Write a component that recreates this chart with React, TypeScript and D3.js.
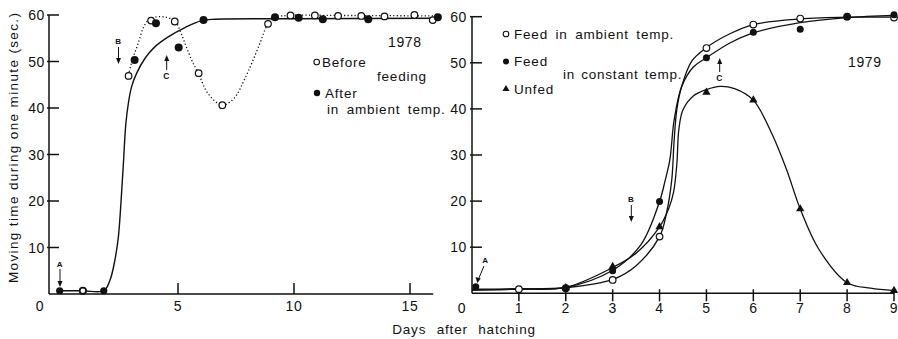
import React from "react";
import * as d3 from "d3";

// ---------- Data: 1978 (left panel) ----------
const beforeFeeding78: [number, number][] = [
  [2.87, 46.9], [3.84, 58.8], [4.86, 58.6], [5.89, 47.5], [6.91, 40.6], [8.88, 58.1],
  [9.85, 59.9], [10.9, 59.9], [11.9, 59.8], [12.9, 59.8], [13.9, 59.7], [15.19, 60.0], [15.98, 58.9],
];
const afterFeeding78: [number, number][] = [
  [3.13, 50.3], [4.05, 58.2], [5.03, 53.0], [6.1, 58.9], [9.18, 59.5], [10.2, 59.4],
  [11.24, 59.1], [13.2, 59.1], [16.2, 59.5],
];
const early78Filled: [number, number][] = [[-0.1, 0.7], [1.8, 0.7]];
const early78Open: [number, number][] = [[0.9, 0.7]];
const fitAfter78: [number, number][] = [
  [-0.1, 0.7], [0.9, 0.7], [1.8, 0.7], [2.07, 3.0], [2.28, 7.3], [2.43, 12.3], [2.54, 19.5],
  [2.64, 27.5], [2.75, 36.5], [2.86, 41], [3.0, 44.6], [3.22, 47.5], [3.58, 50.7], [4.01, 53.2],
  [4.58, 55.3], [5.3, 57.3], [6.02, 58.8], [6.6, 59.1], [10, 59.2], [16.2, 59.3],
];
const fitBefore78: [number, number][] = [
  [2.86, 47.1], [3.05, 50.6], [3.29, 54], [3.5, 57.2], [3.72, 58.9], [4.0, 59.5], [4.4, 59.6],
  [4.87, 58.7], [5.1, 56.5], [5.3, 53.9], [5.59, 50.3], [5.88, 47.4], [6.31, 43.0], [6.91, 40.6],
  [7.4, 42], [7.9, 46.5], [8.5, 53.5], [8.88, 58.1], [9.2, 59.5], [9.85, 59.9], [12, 59.9], [16, 59.8],
];

// ---------- Data: 1979 (right panel) ----------
const days79 = [0, 1, 2, 3, 4, 5, 6, 7, 8, 9];
const feedAmbient: [number, number][] = [[1, 0.9], [2, 1.1], [3, 2.9], [4, 12.3], [5, 53.2], [6, 58.3], [7, 59.6], [8, 60.0], [9, 59.8]];
const feedConstant: [number, number][] = [[0.08, 1.4], [2, 1.1], [3, 4.9], [4, 19.9], [5, 51.1], [6, 56.6], [7, 57.3], [8, 60.0], [9, 60.4]];
const unfed: [number, number][] = [[2, 1.2], [3, 5.8], [4, 14.4], [5, 43.6], [6, 41.9], [7, 18.3], [8, 2.3], [9, 0.6]];

const fitAmbient: [number, number][] = [
  [0, 0.7], [1, 0.9], [2, 1.2], [3, 3.0], [3.5, 6], [4, 12.3], [4.15, 17.5], [4.26, 24.6], [4.31, 33],
  [4.37, 40], [4.47, 44.8], [4.69, 50.4], [5, 53.3], [5.5, 56.3], [6, 58.3], [7, 59.5], [8, 59.9], [9, 59.9],
];
const fitConstant: [number, number][] = [
  [0, 0.9], [1, 1.0], [2, 1.3], [3, 5.0], [3.6, 10.5], [4, 19.9], [4.12, 24.5], [4.22, 29], [4.31, 37.5],
  [4.47, 44.8], [4.72, 49.1], [5, 51.1], [5.5, 54.3], [6, 56.5], [7, 58.7], [8, 59.8], [9, 60.3],
];
const fitUnfed: [number, number][] = [
  [0, 0.7], [1, 0.9], [2, 1.3], [3, 5.6], [3.5, 8.7], [4, 14.4], [4.2, 18.5], [4.3, 22], [4.37, 28.2],
  [4.41, 35.4], [4.5, 39.8], [4.72, 42.8], [5, 44.2], [5.29, 44.9], [5.6, 44.4], [6, 41.9], [6.4, 34.5],
  [6.71, 26.8], [7, 18.3], [7.4, 9.5], [8, 2.3], [8.5, 1.1], [9, 0.6],
];

const yTicks = [10, 20, 30, 40, 50, 60];
const xTicksLeft = [5, 10, 15];
const xTicksRight = [1, 2, 3, 4, 5, 6, 7, 8, 9];

const FONT = "'Liberation Sans', Arial, Helvetica, sans-serif";

export default function App() {
  const W = 898, H = 339;
  const xL = d3.scaleLinear().domain([0, 15]).range([62, 410]);
  const yL = d3.scaleLinear().domain([0, 60]).range([294, 15]);
  const xR = d3.scaleLinear().domain([0, 9]).range([472, 894]);
  const yR = d3.scaleLinear().domain([0, 60]).range([293.3, 16.7]);

  const smooth = d3.curveCatmullRom.alpha(0.5);
  const lineL = d3.line<[number, number]>().x(d => xL(d[0])).y(d => yL(d[1])).curve(smooth);
  const lineR = d3.line<[number, number]>().x(d => xR(d[0])).y(d => yR(d[1])).curve(smooth);
  const tri = d3.symbol().type(d3.symbolTriangle).size(30)();

  const txt = { fontFamily: FONT, fill: "#111", letterSpacing: "0.8px" } as const;
  const tick = { fontFamily: FONT, fill: "#111", letterSpacing: "0.6px" } as const;

  return (
    <svg width={W} height={H} style={{ position: "absolute", left: 0, top: 0, background: "#fff" }}>
      <rect width={W} height={H} fill="#fff" />
      {/* ---------- Left panel axes ---------- */}
      <g stroke="#111" strokeWidth={1.5} fill="none">
        <line x1={49} y1={yL(60)} x2={49} y2={yL(0)} />
        <line x1={49} y1={yL(0)} x2={xL(16)} y2={yL(0)} />
        {yTicks.map(t => <line key={t} x1={47} x2={59} y1={yL(t)} y2={yL(t)} />)}
        {xTicksLeft.map(t => <line key={t} x1={xL(t)} x2={xL(t)} y1={yL(0) - 11} y2={yL(0)} />)}
      </g>
      {yTicks.map(t => (
        <text key={t} x={45} y={yL(t) + 5} textAnchor="end" fontSize={14} style={tick}>{t}</text>
      ))}
      {xTicksLeft.map(t => (
        <text key={t} x={xL(t)} y={310.5} textAnchor="middle" fontSize={14} style={tick}>{t}</text>
      ))}
      <text x={40} y={310.5} textAnchor="middle" fontSize={14} style={tick}>0</text>

      {/* left curves */}
      <path d={lineL(fitAfter78) || ""} fill="none" stroke="#111" strokeWidth={1.4} />
      <path d={lineL(fitBefore78) || ""} fill="none" stroke="#111" strokeWidth={1.3} strokeDasharray="1.2,2.3" />
      {beforeFeeding78.map((d, i) => (
        <circle key={"b" + i} cx={xL(d[0])} cy={yL(d[1])} r={3.3} fill="#fff" stroke="#111" strokeWidth={1.2} />
      ))}
      {afterFeeding78.map((d, i) => (
        <circle key={"a" + i} cx={xL(d[0])} cy={yL(d[1])} r={4} fill="#111" />
      ))}
      {early78Filled.map((d, i) => (
        <circle key={"ef" + i} cx={xL(d[0])} cy={yL(d[1])} r={3.6} fill="#111" />
      ))}
      {early78Open.map((d, i) => (
        <circle key={"eo" + i} cx={xL(d[0])} cy={yL(d[1])} r={3.2} fill="#fff" stroke="#111" strokeWidth={1.8} />
      ))}

      {/* left annotations */}
      <text x={60} y={267} textAnchor="middle" fontSize={8} fontWeight="bold" style={tick}>A</text>
      <line x1={60} y1={269} x2={60} y2={285} stroke="#111" strokeWidth={1} />
      <path d="M57.5,281 L60,287 L62.5,281 Z" fill="#111" />
      <text x={118.5} y={44} textAnchor="middle" fontSize={8} fontWeight="bold" style={tick}>B</text>
      <line x1={118.5} y1={47} x2={118.5} y2={61} stroke="#111" strokeWidth={1} />
      <path d="M116,58 L118.5,64 L121,58 Z" fill="#111" />
      <text x={166.7} y={79} textAnchor="middle" fontSize={8.5} fontWeight="bold" style={tick}>C</text>
      <line x1={166.7} y1={58} x2={166.7} y2={70} stroke="#111" strokeWidth={1} />
      <path d="M164.2,61 L166.7,55 L169.2,61 Z" fill="#111" />

      {/* left legend */}
      <text x={388} y={46.5} fontSize={14} style={tick}>1978</text>
      <circle cx={316.7} cy={62} r={2.8} fill="#fff" stroke="#111" strokeWidth={1.1} />
      <text x={322} y={66.5} fontSize={13.5} style={txt}>Before</text>
      <text x={377} y={80.5} fontSize={13.5} style={txt}>feeding</text>
      <circle cx={317} cy={93} r={3.2} fill="#111" />
      <text x={325} y={98} fontSize={13.5} style={txt}>After</text>
      <text x={327} y={113.5} fontSize={13.5} style={txt} wordSpacing={3}>in ambient temp.</text>

      {/* ---------- Right panel axes ---------- */}
      <g stroke="#111" strokeWidth={1.5} fill="none">
        <line x1={xR(0)} y1={yR(60)} x2={xR(0)} y2={yR(0)} />
        <line x1={xR(0)} y1={yR(0)} x2={xR(9)} y2={yR(0)} />
        {yTicks.map(t => <line key={t} x1={470} x2={482} y1={yR(t)} y2={yR(t)} />)}
        {xTicksRight.map(t => <line key={t} x1={xR(t)} x2={xR(t)} y1={yR(0) - 4} y2={yR(0) + 8} />)}
      </g>
      {yTicks.map(t => (
        <text key={t} x={467} y={yR(t) + 5} textAnchor="end" fontSize={14} style={tick}>{t}</text>
      ))}
      {xTicksRight.map(t => (
        <text key={t} x={xR(t)} y={312.5} textAnchor="middle" fontSize={14} style={tick}>{t}</text>
      ))}
      <text x={462} y={312.5} textAnchor="middle" fontSize={14} style={tick}>{days79[0]}</text>

      {/* right curves */}
      <path d={lineR(fitAmbient) || ""} fill="none" stroke="#111" strokeWidth={1.3} />
      <path d={lineR(fitConstant) || ""} fill="none" stroke="#111" strokeWidth={1.3} />
      <path d={lineR(fitUnfed) || ""} fill="none" stroke="#111" strokeWidth={1.3} />
      {feedAmbient.map((d, i) => (
        <circle key={"fa" + i} cx={xR(d[0])} cy={yR(d[1])} r={3.3} fill="#fff" stroke="#111" strokeWidth={1.2} />
      ))}
      {feedConstant.map((d, i) => (
        <circle key={"fc" + i} cx={xR(d[0])} cy={yR(d[1])} r={3.5} fill="#111" />
      ))}
      {unfed.map((d, i) => (
        <path key={"u" + i} d={tri || ""} transform={`translate(${xR(d[0])},${yR(d[1])})`} fill="#111" />
      ))}

      {/* right annotations */}
      <text x={485.5} y={263} textAnchor="middle" fontSize={8} fontWeight="bold" style={tick}>A</text>
      <line x1={484} y1={266} x2={478.5} y2={279} stroke="#111" strokeWidth={1} />
      <path d="M475.5,277 L477.3,283 L480.8,278.6 Z" fill="#111" />
      <text x={631.3} y={202} textAnchor="middle" fontSize={8} fontWeight="bold" style={tick}>B</text>
      <line x1={631.3} y1={205} x2={631.3} y2={219} stroke="#111" strokeWidth={1} />
      <path d="M628.8,216 L631.3,222 L633.8,216 Z" fill="#111" />
      <text x={719.7} y={81} textAnchor="middle" fontSize={8.5} fontWeight="bold" style={tick}>C</text>
      <line x1={719.7} y1={61} x2={719.7} y2={72} stroke="#111" strokeWidth={1} />
      <path d="M717.2,64 L719.7,58 L722.2,64 Z" fill="#111" />

      {/* right legend */}
      <circle cx={506} cy={34} r={2.8} fill="#fff" stroke="#111" strokeWidth={1.1} />
      <text x={514} y={38.5} fontSize={13.5} style={txt} wordSpacing={3}>Feed in ambient temp.</text>
      <circle cx={506} cy={61.5} r={3} fill="#111" />
      <text x={514} y={66} fontSize={13.5} style={txt}>Feed</text>
      <text x={563} y={78.5} fontSize={13.5} style={txt} wordSpacing={1.5}>in constant temp.</text>
      <path d={d3.symbol().type(d3.symbolTriangle).size(22)() || ""} transform="translate(506,89)" fill="#111" />
      <text x={514} y={94} fontSize={13.5} style={txt}>Unfed</text>
      <text x={848} y={66.5} fontSize={14} style={tick}>1979</text>

      {/* axis titles */}
      <text x={464} y={334} textAnchor="middle" fontSize={13.5} style={txt} wordSpacing={6}>Days after hatching</text>
      <text
        transform={`translate(18,148) rotate(-90)`}
        textAnchor="middle"
        fontSize={13.5}
        style={{ fontFamily: FONT, fill: "#111" }}
        textLength={270}
        lengthAdjust="spacing"
      >
        Moving time during one minute (sec.)
      </text>
    </svg>
  );
}
